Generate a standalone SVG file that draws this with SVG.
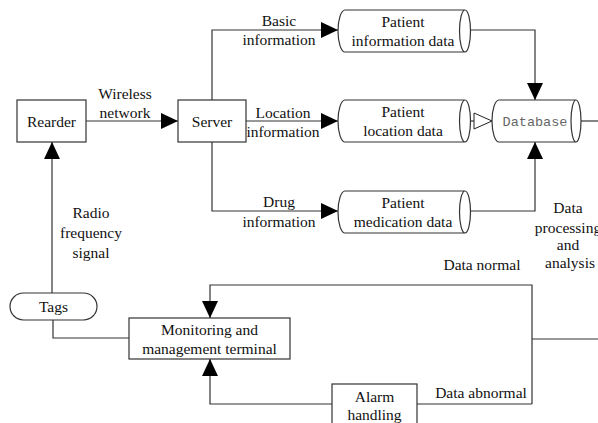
<svg xmlns="http://www.w3.org/2000/svg" width="598" height="423" viewBox="0 0 598 423">
<defs>
<marker id="arr" markerUnits="userSpaceOnUse" viewBox="0 0 17 16" markerWidth="17" markerHeight="16" refX="17" refY="8" orient="auto">
<path d="M0,0 L17,8 L0,16 Z" fill="#000"/>
</marker>
<marker id="open" markerUnits="userSpaceOnUse" viewBox="-1 -1 20 18" markerWidth="20" markerHeight="18" refX="18" refY="8" orient="auto">
<path d="M0,0 L18,8 L0,16 Z" fill="#fff" stroke="#222" stroke-width="1"/>
</marker>
<style>
.box{fill:#fff;stroke:#333;stroke-width:1.2}
.cyl{fill:#fff;stroke:#333;stroke-width:1.2}
.ln{fill:none;stroke:#333;stroke-width:1.2}
.t{font-family:"Liberation Serif","Times New Roman",serif;font-size:15.5px;fill:#111;text-anchor:middle}
.m{font-family:"Liberation Mono","Courier New",monospace;font-size:13.5px;fill:#666;text-anchor:middle}
</style>
</defs>
<g id="connectors">
<path class="ln" d="M86,121 H178" marker-end="url(#arr)"/>
<path class="ln" d="M212,100 V30 H338" marker-end="url(#arr)"/>
<path class="ln" d="M246,121 H338" marker-end="url(#arr)"/>
<path class="ln" d="M212,142 V211 H338" marker-end="url(#arr)"/>
<path class="ln" d="M465,30 H535 V100" marker-end="url(#arr)"/>
<path class="ln" d="M465,211 H535 V142" marker-end="url(#arr)"/>
<path class="ln" d="M465,121 H492" marker-end="url(#open)"/>
<path class="ln" d="M576,121 H598"/>
<path class="ln" d="M52,293 V142" marker-end="url(#arr)"/>
<path class="ln" d="M53,320 V338 H129"/>
<path class="ln" d="M598,339 H532"/>
<path class="ln" d="M532,404 V285 H210 V318" marker-end="url(#arr)"/>
<path class="ln" d="M532,404 H417"/>
<path class="ln" d="M332,404 H210 V359" marker-end="url(#arr)"/>
<text class="t" x="125" y="99">Wireless</text>
<text class="t" x="125" y="118">network</text>
<text class="t" x="279" y="26">Basic</text>
<text class="t" x="279" y="45">information</text>
<text class="t" x="283" y="118">Location</text>
<text class="t" x="283" y="137">information</text>
<text class="t" x="279" y="207">Drug</text>
<text class="t" x="279" y="227">information</text>
<text class="t" x="91" y="218">Radio</text>
<text class="t" x="91" y="238">frequency</text>
<text class="t" x="91" y="258">signal</text>
<text class="t" x="568" y="213">Data</text>
<text class="t" x="568" y="233">processing</text>
<text class="t" x="568" y="250">and</text>
<text class="t" x="570" y="268">analysis</text>
<text class="t" x="482" y="270">Data normal</text>
<text class="t" x="481" y="398">Data abnormal</text>
</g>
<g id="reader">
<rect class="box" x="17" y="100" width="69" height="42"/>
<text class="t" x="51.5" y="127">Rearder</text>
</g>
<g id="server">
<rect class="box" x="178" y="100" width="68" height="42"/>
<text class="t" x="212" y="127">Server</text>
</g>
<g id="patient-info">
<path class="cyl" d="M345,10 H465 A5.5,21 0 0 1 465,52 H345 A7,21 0 0 1 345,10 Z M465,10 A5.5,21 0 0 0 465,52"/>
<text class="t" x="403" y="27">Patient</text>
<text class="t" x="403" y="46">information data</text>
</g>
<g id="patient-location">
<path class="cyl" d="M345,100 H465 A5.5,21 0 0 1 465,142 H345 A7,21 0 0 1 345,100 Z M465,100 A5.5,21 0 0 0 465,142"/>
<text class="t" x="403" y="117">Patient</text>
<text class="t" x="403" y="136">location data</text>
</g>
<g id="patient-medication">
<path class="cyl" d="M345,191 H465 A5.5,21 0 0 1 465,233 H345 A7,21 0 0 1 345,191 Z M465,191 A5.5,21 0 0 0 465,233"/>
<text class="t" x="403" y="208">Patient</text>
<text class="t" x="403" y="227">medication data</text>
</g>
<g id="database">
<path class="cyl" d="M499,100 H576 A5,21 0 0 1 576,142 H499 A7,21 0 0 1 499,100 Z M576,100 A5,21 0 0 0 576,142"/>
<text class="m" x="535" y="126">Database</text>
</g>
<g id="tags">
<rect class="box" x="10" y="293" width="87" height="27" rx="13.5"/>
<text class="t" x="53.5" y="312">Tags</text>
</g>
<g id="monitoring">
<rect class="box" x="129" y="318" width="161" height="41"/>
<text class="t" x="209.5" y="335">Monitoring and</text>
<text class="t" x="209.5" y="354">management terminal</text>
</g>
<g id="alarm">
<rect class="box" x="332" y="384" width="85" height="50"/>
<text class="t" x="374.5" y="402">Alarm</text>
<text class="t" x="374.5" y="420">handling</text>
</g>
</svg>
